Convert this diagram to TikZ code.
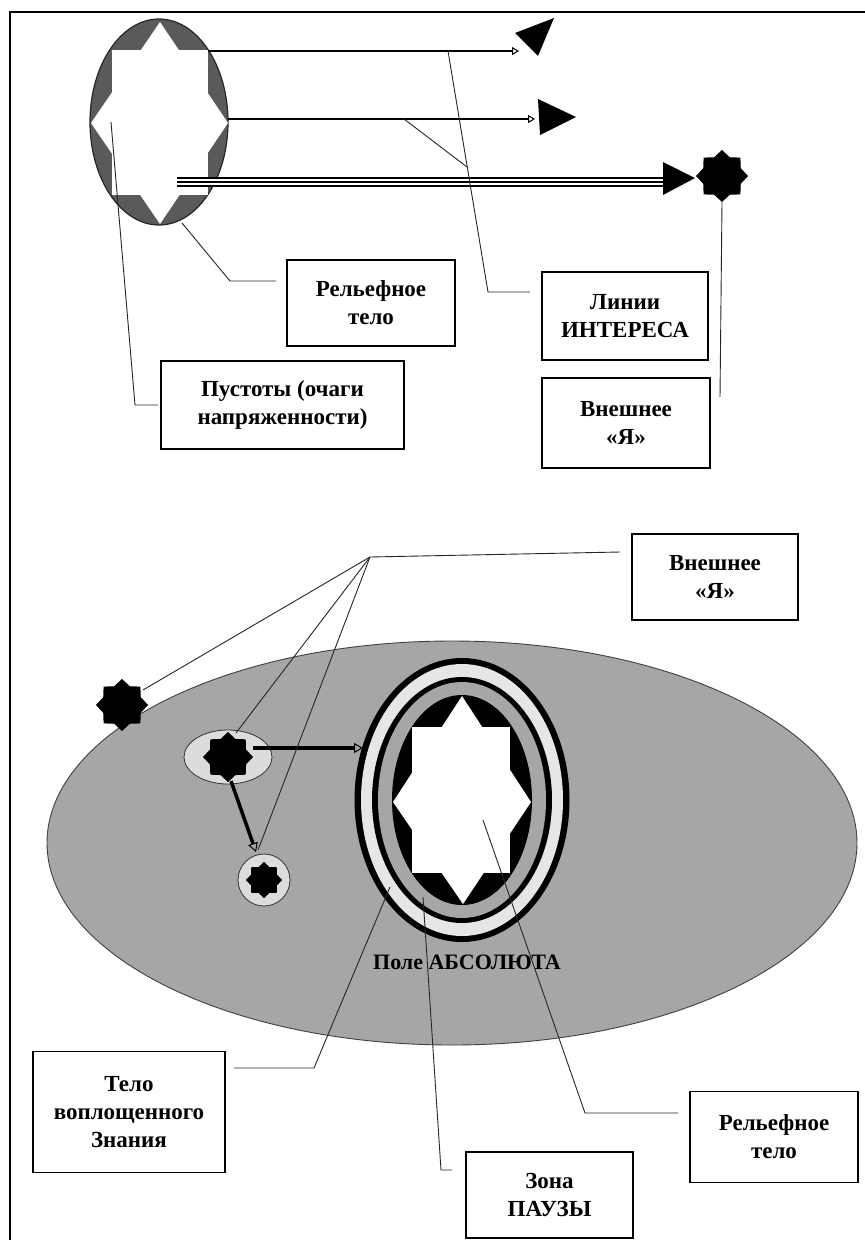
\documentclass[tikz,border=0pt]{standalone}
\usepackage{fontspec}
\setmainfont{Liberation Serif}
\usetikzlibrary{shapes.geometric,arrows.meta}
\definecolor{darkfill}{HTML}{5A5A5A}
\definecolor{fieldgray}{HTML}{A6A6A6}
\definecolor{lightband}{HTML}{E6E6E6}
\definecolor{palefill}{HTML}{DCDCDC}
\begin{document}
\begin{tikzpicture}[x=1pt,y=-1pt,
  box/.style={draw=black,line width=1.3pt,align=center,inner sep=0pt,
    font=\bfseries\fontsize{23}{28}\selectfont},
  lead/.style={draw=black!85,line width=0.9pt},
  blackstar/.style={star,star points=8,star point ratio=1.28,fill=black,
    inner sep=0pt,minimum size=#1},
  oval/.style={ellipse,inner sep=0pt},
  thinarrow/.style={line width=2.4pt,-{Triangle[open,length=7pt,width=8pt,line width=1pt]}},
  thickarrow/.style={line width=3.5pt,-{Triangle[open,length=9pt,width=10pt,line width=1pt]}},
]
\useasboundingbox (0,0) rectangle (865,1240);
\fill[white] (0,0) rectangle (865,1240);
\draw[line width=2pt] (10,1240) -- (10,12) -- (865,12);

% ---------------- top part ----------------
\node[oval,draw=black!85,line width=1.2pt,fill=darkfill,minimum width=138pt,minimum height=206pt] (body1) at (159,122) {};
\fill[white] (112,50) rectangle (208,195);
\fill[white] (160,22) -- (228,123) -- (160,224) -- (91,123) -- cycle;

% lines of interest
\coordinate (a1s) at (208,51);  \coordinate (a1e) at (519,51);
\coordinate (a2s) at (228,119); \coordinate (a2e) at (535,119);
\coordinate (a3s) at (177,182); \coordinate (a3e) at (664,182);
\draw[thinarrow] (a1s) -- (a1e);
\draw[thinarrow] (a2s) -- (a2e);
\draw[line width=10pt] (a3s) -- (a3e);
\draw[white,line width=6pt] (a3s) -- (a3e);
\draw[line width=2pt] (a3s) -- (a3e);
\fill (515,33) -- (554,18) -- (538,56) -- cycle;
\fill (538,99) -- (576,117) -- (540,135) -- cycle;
\fill (663,162) -- (695,178) -- (663,195) -- cycle;
\node[blackstar=52pt] (s1) at (722,176) {};

% boxes
\node[box,minimum width=168pt,minimum height=86pt] (relief1) at (371,303) {Рельефное\\тело};
\node[box,minimum width=243pt,minimum height=88pt] (pust) at (282.5,405) {Пустоты (очаги\\напряженности)};
\node[box,minimum width=166pt,minimum height=88pt] (linii) at (625,316) {Линии\\ИНТЕРЕСА};
\node[box,minimum width=168pt,minimum height=90pt] (vn1) at (626,423) {Внешнее\\«Я»};

% leaders
\coordinate (l1a) at (448,51); \coordinate (l1b) at (488,292); \coordinate (l1c) at (530,292);
\coordinate (l2a) at (404,119); \coordinate (l2b) at (467,167);
\draw[lead] (l1a) -- (l1b) -- (l1c);
\draw[lead] (l2a) -- (l2b);
\coordinate (v1e) at (720,397);
\draw[lead] (s1.south) -- (v1e);
\coordinate (r1a) at (182,223); \coordinate (r1b) at (230,281); \coordinate (r1c) at (276,281);
\draw[lead] (r1a) -- (r1b) -- (r1c);
\coordinate (p1a) at (111,122); \coordinate (p1b) at (135,405); \coordinate (p1c) at (158,405);
\draw[lead] (p1a) -- (p1b) -- (p1c);

% ---------------- bottom part ----------------
\node[oval,draw=black!75,line width=0.9pt,fill=fieldgray,minimum width=810pt,minimum height=404pt] (field) at (452,843) {};

% rings
\node[oval,fill=black,minimum width=215pt,minimum height=284pt] (ring1) at (462,800) {};
\node[oval,fill=lightband,minimum width=202pt,minimum height=272pt] (band1) at (462,800) {};
\node[oval,fill=black,minimum width=180pt,minimum height=246pt] (ring2) at (462,800) {};
\node[oval,fill=fieldgray,minimum width=168pt,minimum height=236pt] (band2) at (462,800) {};
\node[oval,fill=black,minimum width=140pt,minimum height=210pt] (core) at (462,800) {};
\fill[white] (412,727) rectangle (510,873);
\fill[white] (462,696) -- (531,802) -- (463,904) -- (393,802) -- cycle;

\node[font=\bfseries\fontsize{22}{27}\selectfont] (pole) at (467,962) {Поле АБСОЛЮТА};

% small bodies
\node[oval,draw=black!80,line width=0.8pt,fill=palefill,minimum width=88pt,minimum height=54pt] (small1) at (228,757) {};
\node[blackstar=50pt] (s3) at (228,757) {};
\node[circle,draw=black!80,line width=0.8pt,fill=palefill,minimum size=52pt,inner sep=0pt] (small2) at (264,880) {};
\node[blackstar=36pt] (s4) at (264,880) {};
\node[blackstar=52pt] (s2) at (122,705) {};

% arrows
\coordinate (b1s) at (253,748); \coordinate (b1e) at (363,748);
\coordinate (b2s) at (231,781); \coordinate (b2e) at (256,852);
\draw[thickarrow] (b1s) -- (b1e);
\draw[thickarrow] (b2s) -- (b2e);

% fan of the outer self
\coordinate (apex) at (370,557);
\coordinate (f1) at (143,690); \coordinate (f2) at (236,733); \coordinate (f3) at (258,850);
\coordinate (f4) at (620,552);
\draw[lead] (f1) -- (apex) -- (f4);
\draw[lead] (f2) -- (apex);
\draw[lead] (f3) -- (apex);

% boxes
\node[box,minimum width=166pt,minimum height=86pt] (vn2) at (715,577) {Внешнее\\«Я»};
\node[box,minimum width=192pt,minimum height=121pt] (telo) at (129,1112) {Тело\\воплощенного\\Знания};
\node[box,minimum width=167pt,minimum height=86pt] (zona) at (549.5,1195) {Зона\\ПАУЗЫ};
\node[box,minimum width=168pt,minimum height=91pt] (relief2) at (774,1137) {Рельефное\\тело};

% leaders
\coordinate (t1a) at (390,887); \coordinate (t1b) at (314,1068); \coordinate (t1c) at (234,1068);
\draw[lead] (t1a) -- (t1b) -- (t1c);
\coordinate (z1a) at (423,897); \coordinate (z1b) at (441,1170); \coordinate (z1c) at (452,1170);
\draw[lead] (z1a) -- (z1b) -- (z1c);
\coordinate (q1a) at (483,820); \coordinate (q1b) at (585,1113); \coordinate (q1c) at (678,1113);
\draw[lead] (q1a) -- (q1b) -- (q1c);
\end{tikzpicture}
\end{document}
